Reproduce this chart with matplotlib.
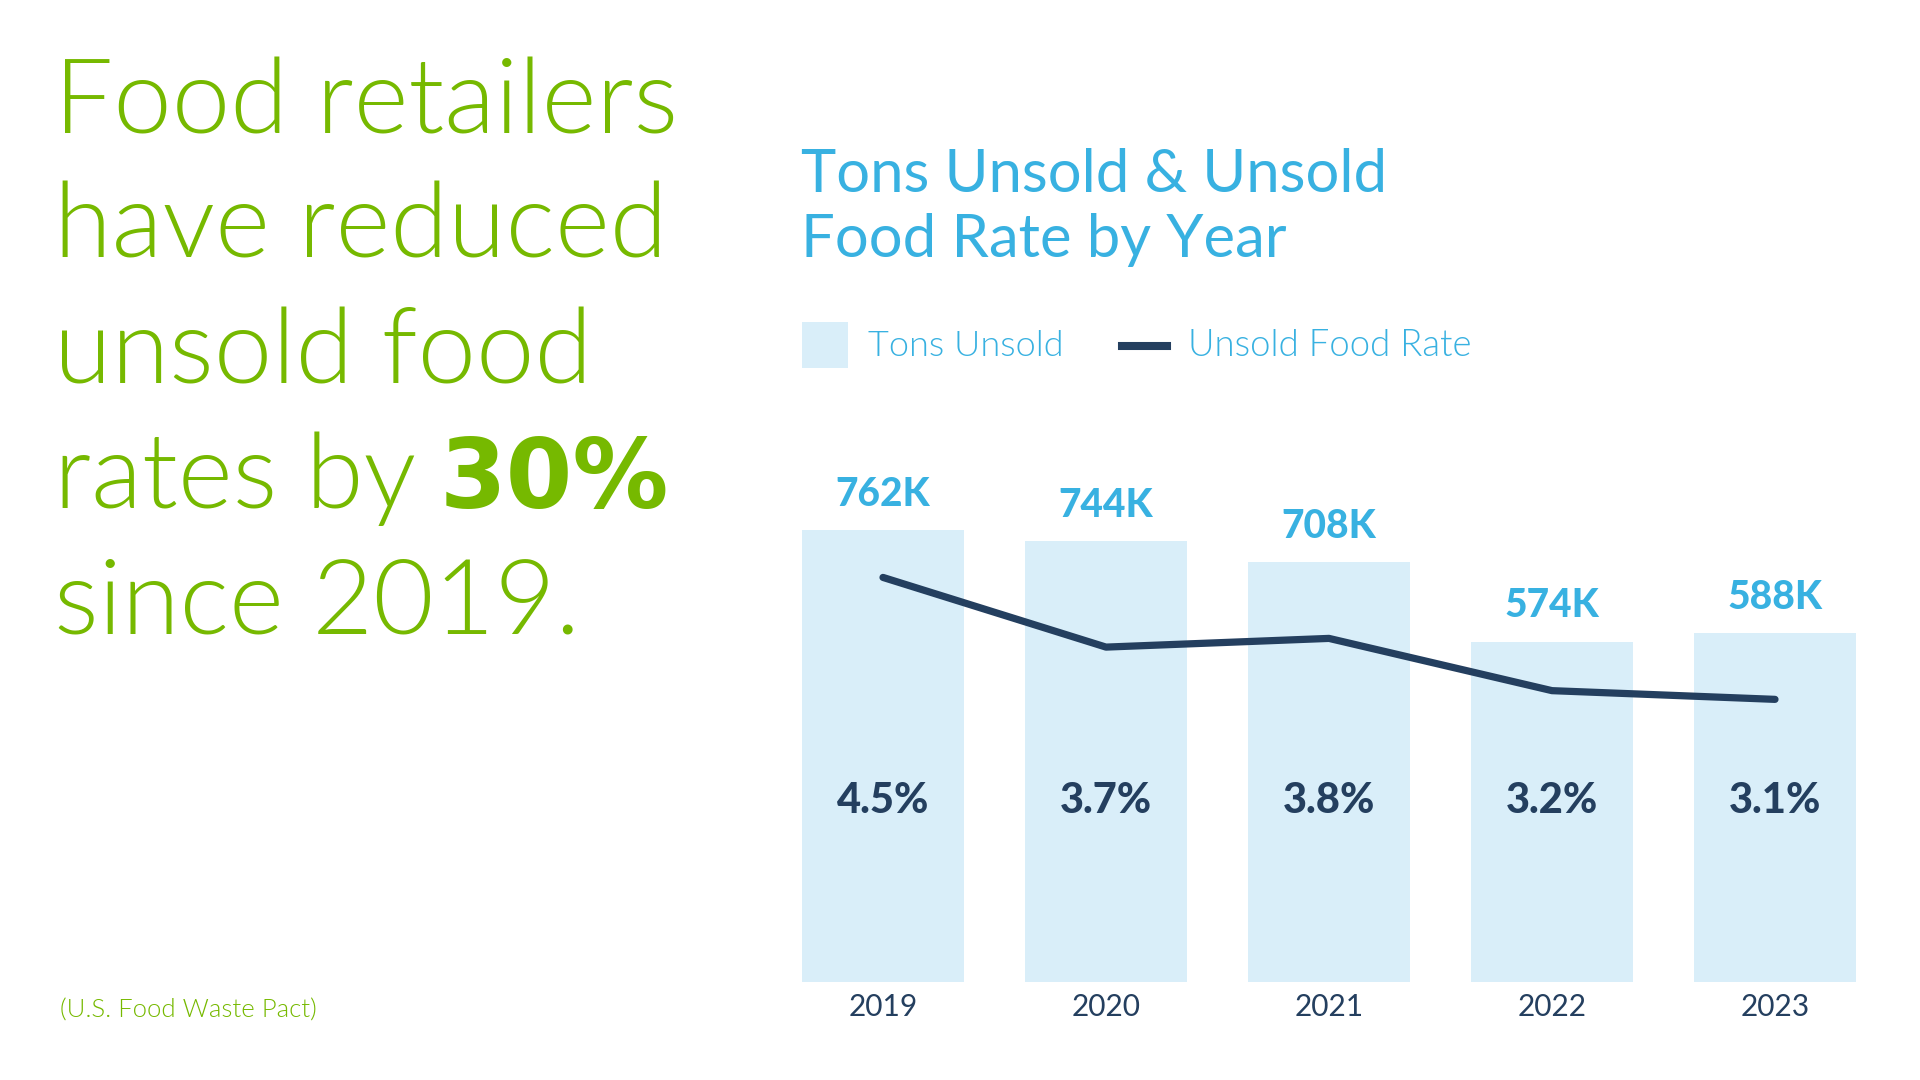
import os
import matplotlib
matplotlib.use("Agg")
import matplotlib.pyplot as plt
from matplotlib import font_manager as fm
from matplotlib.font_manager import FontProperties
from matplotlib.patches import Rectangle
from matplotlib.lines import Line2D
from matplotlib.transforms import blended_transform_factory

# ---- data ----
years = ["2019", "2020", "2021", "2022", "2023"]
tons_unsold_k = [762, 744, 708, 574, 588]
unsold_rate_pct = [4.5, 3.7, 3.8, 3.2, 3.1]
tons_labels = ["762K", "744K", "708K", "574K", "588K"]
rate_labels = ["4.5%", "3.7%", "3.8%", "3.2%", "3.1%"]

GREEN = "#76b900"
BLUE = "#38b1e1"
BAR = "#d9eef9"
NAVY = "#243f5f"


def lato(style, fallback_weight):
    """Pick a Lato file by its style name, fall back to a weight."""
    for f in fm.fontManager.ttflist:
        base = os.path.basename(f.fname).lower()
        if base.startswith("lato") and "italic" not in base:
            stem = os.path.splitext(base)[0]
            if stem.endswith("-" + style.lower()):
                return dict(fontproperties=FontProperties(fname=f.fname))
    return dict(family="Lato", fontweight=fallback_weight)


LIGHT = lato("Light", "normal")
REG = lato("Regular", "normal")
HEAVY = lato("Heavy", "bold")

W, H = 1920, 1080
fig = plt.figure(figsize=(19.2, 10.8), dpi=100)
fig.patch.set_facecolor("white")


def fx(px):
    return px / W


def fy(py):
    return 1 - py / H


def fprops(font, size):
    fp = font.get("fontproperties")
    if fp is not None:
        fp = fp.copy()
        fp.set_size(size)
        return dict(fontproperties=fp)
    return dict(family=font["family"], fontweight=font["fontweight"],
                fontsize=size)


def txt(x, y, s, size, color, font, **kw):
    return fig.text(fx(x), fy(y), s, color=color, va="baseline", ha="left",
                    **fprops(font, size), **kw)


# ---- chart axes (pixel box: left 802, right 1856, top 450, bottom 982) ----
L, R, T, B = 802, 1856, 450, 982
ax = fig.add_axes([fx(L), fy(B), (R - L) / W, (B - T) / H])
x = list(range(len(years)))
ax.bar(x, tons_unsold_k, width=0.7265, color=BAR, zorder=1)
ax.set_xlim(-0.36325, len(years) - 1 + 0.36325)
ax.set_ylim(0, (B - T) / 0.593)
for s in ax.spines.values():
    s.set_visible(False)
ax.set_yticks([])
ax.set_xticks(x, years)
ax.tick_params(axis="x", length=0, pad=8, labelcolor=NAVY)
for lab in ax.get_xticklabels():
    p = fprops(REG, 21.5)
    if "fontproperties" in p:
        lab.set_fontproperties(p["fontproperties"])
    else:
        lab.set_fontfamily(p["family"])
        lab.set_fontweight(p["fontweight"])
        lab.set_fontsize(p["fontsize"])

# value labels above bars
for xi, v, lab in zip(x, tons_unsold_k, tons_labels):
    ax.annotate(lab, (xi, v), xytext=(0, 17.5), textcoords="offset points",
                ha="center", va="baseline", color=BLUE, **fprops(HEAVY, 28))

# rate labels inside bars
trans = blended_transform_factory(ax.transData, ax.transAxes)
for xi, lab in zip(x, rate_labels):
    ax.text(xi, (B - 813) / (B - T), lab, transform=trans, ha="center",
            va="baseline", color=NAVY, **fprops(HEAVY, 30))

# rate line on twin axis
ax2 = ax.twinx()
ax2.set_ylim(-0.145, 5.963)
ax2.plot(x, unsold_rate_pct, color=NAVY, lw=5.2, solid_capstyle="round",
         solid_joinstyle="round", zorder=3)
ax2.set_yticks([])
for s in ax2.spines.values():
    s.set_visible(False)

# ---- left heading ----
lines = ["Food retailers", "have reduced", "unsold food", "rates by", "since 2019."]
baselines = [133, 258, 383, 508, 633]
hx = 54
texts = [txt(hx, bl, ln, 75.5, GREEN, LIGHT) for ln, bl in zip(lines, baselines)]

fig.canvas.draw()
r = fig.canvas.get_renderer()
ext = texts[3].get_window_extent(renderer=r)
fig.text(fx(ext.x1 + 24), fy(508), "30%", fontsize=69, color=GREEN,
         family="DejaVu Sans", fontweight="bold", va="baseline", ha="left")

# source
txt(60, 1018, "(U.S. Food Waste Pact)", 18.5, GREEN, LIGHT)

# ---- chart title ----
txt(801, 192, "Tons Unsold & Unsold", 43, BLUE, REG)
txt(801, 257, "Food Rate by Year", 43, BLUE, REG)

# ---- legend ----
fig.patches.append(Rectangle((fx(802), fy(368)), 46 / W, 46 / H,
                             transform=fig.transFigure, facecolor=BAR,
                             edgecolor="none"))
txt(868, 356, "Tons Unsold", 26, BLUE, LIGHT)
fig.lines.append(Line2D([fx(1122), fx(1167)], [fy(345.5), fy(345.5)],
                        transform=fig.transFigure, color=NAVY, lw=5.8))
txt(1188, 356, "Unsold Food Rate", 26.3, BLUE, LIGHT)

fig.savefig("out.png", dpi=100, facecolor="white")
